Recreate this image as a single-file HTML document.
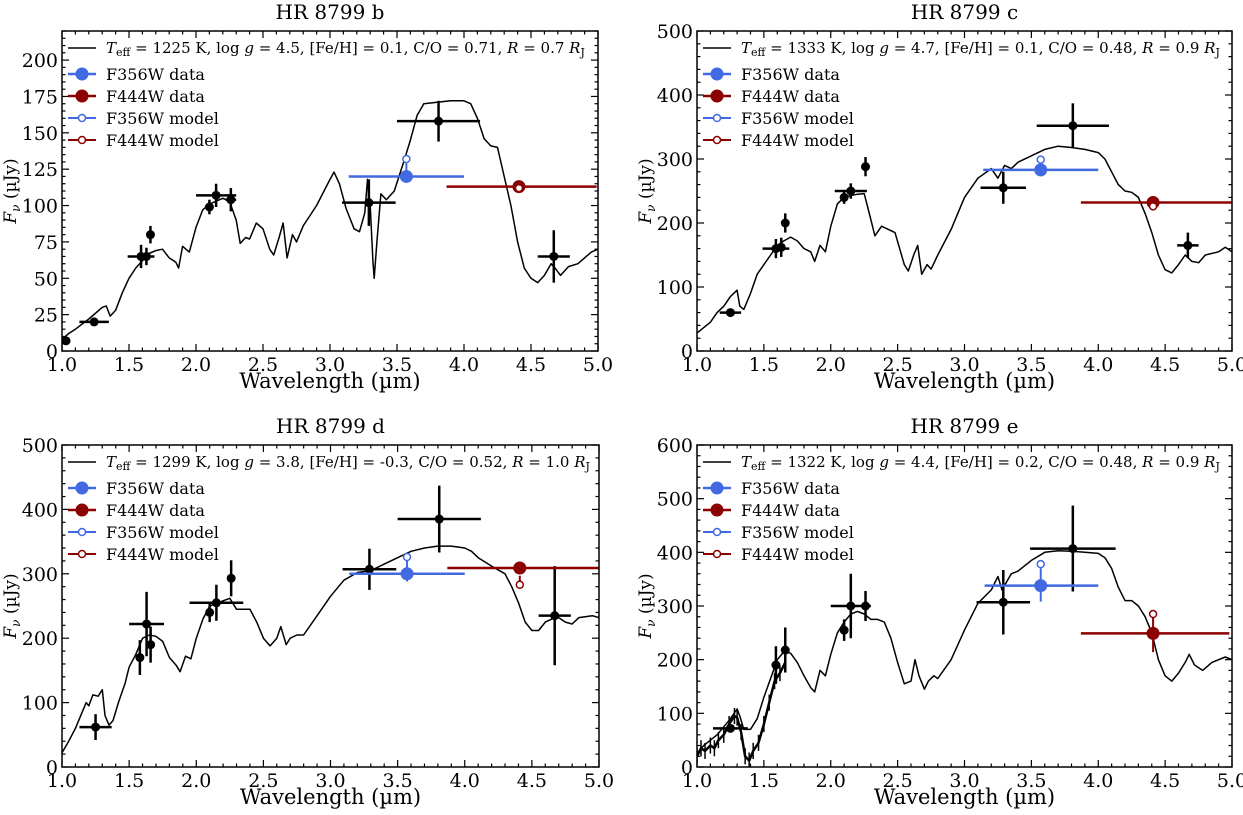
<!DOCTYPE html>
<html><head><meta charset="utf-8"><style>
html,body{margin:0;padding:0;background:#fff;}
svg text{font-family:"DejaVu Serif","Liberation Serif",serif;fill:#000;}
</style></head>
<body>
<svg id="fig" width="1243" height="810" xmlns="http://www.w3.org/2000/svg"></svg>
<script>
// ---------- data ----------
const modelB = [[1.0,8],[1.05,12],[1.1,15],[1.2,22],[1.3,30],[1.33,31],[1.36,24],[1.4,28],[1.45,40],[1.5,50],[1.55,57],[1.6,62],[1.65,67],[1.7,69],[1.75,70],[1.8,64],[1.85,61],[1.87,57],[1.9,72],[1.95,68],[2.0,85],[2.05,97],[2.1,101],[2.15,103],[2.2,105],[2.25,103],[2.3,90],[2.33,74],[2.37,78],[2.4,77],[2.45,88],[2.5,84],[2.55,70],[2.58,66],[2.62,78],[2.65,88],[2.68,64],[2.72,80],[2.75,75],[2.8,86],[2.9,100],[3.0,118],[3.03,123],[3.07,115],[3.12,98],[3.18,84],[3.22,82],[3.26,95],[3.28,118],[3.3,100],[3.32,62],[3.33,50],[3.35,75],[3.38,108],[3.42,104],[3.48,110],[3.55,130],[3.6,145],[3.65,162],[3.7,170],[3.8,171],[3.9,172],[4.0,172],[4.05,170],[4.1,160],[4.15,146],[4.2,141],[4.25,140],[4.3,120],[4.35,100],[4.4,75],[4.45,57],[4.5,50],[4.55,47],[4.6,52],[4.65,60],[4.68,57],[4.72,52],[4.78,58],[4.85,60],[4.95,68],[5.0,70]];
const modelC = [[1.0,28],[1.1,45],[1.15,60],[1.2,70],[1.25,85],[1.3,95],[1.32,70],[1.35,65],[1.4,90],[1.45,120],[1.5,135],[1.55,150],[1.6,165],[1.65,172],[1.7,178],[1.75,172],[1.8,160],[1.85,155],[1.88,140],[1.92,165],[1.96,155],[2.0,195],[2.05,230],[2.1,240],[2.15,243],[2.2,245],[2.25,246],[2.3,205],[2.33,180],[2.38,195],[2.43,190],[2.48,185],[2.55,135],[2.58,125],[2.62,150],[2.65,165],[2.68,120],[2.72,135],[2.75,128],[2.8,150],[2.9,190],[3.0,240],[3.1,270],[3.2,285],[3.25,270],[3.3,290],[3.35,285],[3.4,295],[3.5,305],[3.6,315],[3.7,320],[3.8,318],[3.9,315],[4.0,310],[4.05,300],[4.1,280],[4.15,260],[4.2,250],[4.25,248],[4.3,240],[4.35,215],[4.4,185],[4.45,150],[4.5,127],[4.55,122],[4.6,135],[4.65,150],[4.7,140],[4.75,138],[4.8,150],[4.9,155],[4.95,162],[5.0,155]];
const modelD = [[1.0,22],[1.05,40],[1.1,60],[1.15,85],[1.18,100],[1.2,95],[1.23,112],[1.27,110],[1.3,120],[1.32,80],[1.35,65],[1.38,72],[1.42,100],[1.47,130],[1.5,155],[1.55,175],[1.6,200],[1.65,205],[1.7,203],[1.75,195],[1.8,170],[1.85,158],[1.88,148],[1.92,172],[1.96,168],[2.0,200],[2.05,230],[2.1,250],[2.2,258],[2.25,262],[2.3,245],[2.35,245],[2.4,245],[2.45,225],[2.5,200],[2.55,188],[2.6,200],[2.63,218],[2.67,190],[2.7,200],[2.75,205],[2.8,205],[2.9,235],[3.0,265],[3.1,290],[3.2,302],[3.3,305],[3.4,315],[3.5,325],[3.6,335],[3.7,340],[3.8,343],[3.9,343],[4.0,340],[4.05,335],[4.1,325],[4.2,312],[4.3,300],[4.35,280],[4.4,255],[4.45,225],[4.5,212],[4.55,212],[4.6,225],[4.65,230],[4.7,232],[4.75,225],[4.8,222],[4.85,232],[4.95,235],[5.0,232]];
const modelE = [[1.0,25],[1.05,40],[1.1,50],[1.15,60],[1.2,75],[1.25,90],[1.3,108],[1.32,95],[1.35,70],[1.4,70],[1.45,90],[1.5,130],[1.55,165],[1.6,200],[1.65,215],[1.7,212],[1.75,195],[1.8,170],[1.85,148],[1.88,140],[1.92,180],[1.96,170],[2.0,210],[2.05,250],[2.1,270],[2.15,285],[2.2,290],[2.25,285],[2.3,275],[2.35,275],[2.4,270],[2.45,240],[2.5,195],[2.55,155],[2.6,160],[2.63,200],[2.66,170],[2.7,145],[2.73,160],[2.77,170],[2.8,165],[2.9,200],[3.0,255],[3.1,305],[3.2,330],[3.25,355],[3.28,330],[3.35,360],[3.4,365],[3.5,385],[3.6,400],[3.7,403],[3.8,402],[3.9,400],[4.0,398],[4.05,390],[4.1,370],[4.15,335],[4.2,310],[4.25,310],[4.3,300],[4.35,280],[4.4,250],[4.45,200],[4.5,170],[4.55,160],[4.6,175],[4.65,195],[4.68,210],[4.72,190],[4.78,180],[4.85,195],[4.95,205],[5.0,200]];
const specE = [[1.0,20],[1.03,35],[1.06,30],[1.1,40],[1.13,35],[1.16,50],[1.2,60],[1.24,80],[1.28,95],[1.3,92],[1.33,65],[1.36,20],[1.39,12],[1.42,30],[1.46,45],[1.5,80],[1.54,120],[1.58,160],[1.62,175],[1.66,195]];
// photometry: [wl, flux, xerr, yerr]
const photB = [[1.03,7,0,0],[1.24,20,0.11,0],[1.59,65,0.1,8],[1.63,65,0,6],[1.66,80,0,6],[2.10,99,0,5],[2.15,107,0.15,8],[2.26,104,0.04,8],[3.29,102,0.2,16],[3.81,158,0.31,14],[4.67,65,0.12,18]];
const photC = [[1.25,60,0.08,0],[1.59,160,0.1,15],[1.63,162,0,15],[1.66,200,0,15],[2.10,240,0,10],[2.15,250,0.12,12],[2.26,288,0,15],[3.29,255,0.17,25],[3.81,352,0.27,35],[4.67,165,0.08,20]];
const photD = [[1.25,62,0.12,20],[1.58,170,0,27],[1.63,222,0.13,50],[1.66,190,0,28],[2.10,240,0,15],[2.15,255,0.2,28],[2.26,293,0,28],[3.29,307,0.2,32],[3.81,385,0.31,52],[4.67,235,0.12,77]];
const photE = [[1.25,72,0.13,0],[1.59,190,0,35],[1.66,218,0,42],[2.10,255,0,20],[2.15,300,0.15,60],[2.26,300,0,28],[3.29,307,0.2,60],[3.81,407,0.32,80]];
// filters: [wl, data, xlo, xhi, yerr, model]
const f356 = [[3.57,120,3.14,4.0,4,132],[3.57,283,3.14,4.0,10,299],[3.57,300,3.14,4.0,12,326],[3.57,338,3.15,4.0,30,378]];
const f444 = [[4.41,113,3.87,4.99,4,112],[4.41,232,3.87,5.0,8,226],[4.41,309,3.87,5.0,12,283],[4.41,249,3.87,4.98,35,285]];
const titles = ["HR 8799 b","HR 8799 c","HR 8799 d","HR 8799 e"];
const params = [["1225","4.5","0.1","0.71","0.7"],["1333","4.7","0.1","0.48","0.9"],["1299","3.8","-0.3","0.52","1.0"],["1322","4.4","0.2","0.48","0.9"]];
const yMaxes = [220,500,500,600];
const yMajors = [25,100,100,100];
const yMinors = [5,20,20,20];
const xTicks = ["1.0","1.5","2.0","2.5","3.0","3.5","4.0","4.5","5.0"];

const boxes = [[62,31,598,351],[697,31,1232,351],[62,445,599,767],[697,445,1232,767]];
const models=[modelB,modelC,modelD,modelE], phots=[photB,photC,photD,photE];
const NS="http://www.w3.org/2000/svg";
const svg=document.getElementById('fig');
function mk(tag,attrs,parent){const e=document.createElementNS(NS,tag);for(const k in attrs)e.setAttribute(k,attrs[k]);(parent||svg).appendChild(e);return e;}
const BLUE="#4169e1", RED="#8b0000";

for(let p=0;p<4;p++){
  const [L,T,R,B]=boxes[p];
  const g=mk('g',{});
  
  
  const sx=v=>L+(v-1)/4*(R-L);
  const sy=v=>B-v/yMaxes[p]*(B-T);
  const cp=mk('clipPath',{id:'c'+p},g);mk('rect',{x:L,y:T,width:R-L,height:B-T},cp);
  for(let k=0;k<=40;k++){const x=sx(1+k*0.1);const len=(k%5==0)?7:3.5;
    mk('line',{x1:x,x2:x,y1:B,y2:B-len,stroke:'#000','stroke-width':1.2},g);
    mk('line',{x1:x,x2:x,y1:T,y2:T+len,stroke:'#000','stroke-width':1.2},g);}
  for(let v=0;v<=yMaxes[p]+1e-9;v+=yMinors[p]){const y=sy(v);const maj=Math.abs(v/yMajors[p]-Math.round(v/yMajors[p]))<1e-6;const len=maj?7:3.5;
    mk('line',{x1:L,x2:L+len,y1:y,y2:y,stroke:'#000','stroke-width':1.2},g);
    mk('line',{x1:R,x2:R-len,y1:y,y2:y,stroke:'#000','stroke-width':1.2},g);
    if(maj&&v<=yMaxes[p]-(p==0?20:0)+1e-9){const t=mk('text',{x:L-4,y:y+7,'text-anchor':'end','font-size':19},g);t.textContent=String(Math.round(v));
      
      }
  }
  xTicks.forEach(s=>{const t=mk('text',{x:sx(parseFloat(s)),y:B+20,'text-anchor':'middle','font-size':19},g);t.textContent=s;
    
    });
  const tt=mk('text',{x:(L+R)/2,y:T-12,'text-anchor':'middle','font-size':20},g);tt.textContent=titles[p];
  
  
  const xl=mk('text',{x:(L+R)/2,y:B+37,'text-anchor':'middle','font-size':21},g);xl.textContent='Wavelength (µm)';
  
  
  const yl=mk('text',{transform:`translate(${L-46},${(T+B)/2}) rotate(-90)`,'text-anchor':'middle','font-size':17},g);
  yl.innerHTML='<tspan font-style="italic">F</tspan><tspan font-style="italic" font-size="12" dy="4">ν</tspan><tspan dy="-4"> (µJy)</tspan>';
  
  
  const cg=mk('g',{'clip-path':`url(#c${p})`},g);
  if(p==3){
    specE.forEach(d=>{mk('line',{x1:sx(d[0]),x2:sx(d[0]),y1:sy(d[1]-15),y2:sy(d[1]+15),stroke:'#000','stroke-width':1.5},cg);});
    const sp=mk('path',{d:'M'+specE.map(d=>sx(d[0]).toFixed(1)+','+sy(d[1]).toFixed(1)).join('L'),fill:'none',stroke:'#000','stroke-width':2.5},cg);
    
    
  }
  const ml=mk('path',{d:'M'+models[p].map(d=>sx(d[0]).toFixed(1)+','+sy(d[1]).toFixed(1)).join('L'),fill:'none',stroke:'#000','stroke-width':1.5,'stroke-linejoin':'round'},cg);
  
  
  phots[p].forEach(d=>{const pg=mk('g',{},cg);
    
    
    if(d[2]>0)mk('line',{x1:sx(d[0]-d[2]),x2:sx(d[0]+d[2]),y1:sy(d[1]),y2:sy(d[1]),stroke:'#000','stroke-width':2.5},pg);
    if(d[3]>0)mk('line',{x1:sx(d[0]),x2:sx(d[0]),y1:sy(d[1]-d[3]),y2:sy(d[1]+d[3]),stroke:'#000','stroke-width':2.5},pg);
    mk('circle',{cx:sx(d[0]),cy:sy(d[1]),r:4.5,fill:'#000'},pg);});
  [[f356[p],BLUE,'f356w'],[f444[p],RED,'f444w']].forEach(([d,c,n])=>{
    const fg=mk('g',{},cg);
    
    
    mk('line',{x1:sx(d[2]),x2:sx(d[3]),y1:sy(d[1]),y2:sy(d[1]),stroke:c,'stroke-width':2.5},fg);
    mk('line',{x1:sx(d[0]),x2:sx(d[0]),y1:sy(d[5]),y2:sy(d[1]-d[4]),stroke:c,'stroke-width':2},fg);
    mk('circle',{cx:sx(d[0]),cy:sy(d[1]),r:6.5,fill:c},fg);
    mk('circle',{cx:sx(d[0]),cy:sy(d[5]),r:3.5,fill:'#fff',stroke:c,'stroke-width':1.5},fg);
  });
  mk('rect',{x:L,y:T,width:R-L,height:B-T,fill:'none',stroke:'#000','stroke-width':1.5},g);
  const lg=mk('g',{},g);
  
  
  const pr=params[p];
  let y0=T+17;
  mk('line',{x1:L+6,x2:L+34,y1:y0,y2:y0,stroke:'#000','stroke-width':1.5},lg);
  const t0=mk('text',{x:L+44,y:y0+5,'font-size':15},lg);
  t0.innerHTML=`<tspan font-style="italic">T</tspan><tspan font-size="11" dy="3">eff</tspan><tspan dy="-3"> = ${pr[0]} K, log </tspan><tspan font-style="italic">g</tspan><tspan> = ${pr[1]}, [Fe/H] = ${pr[2]}, C/O = ${pr[3]}, </tspan><tspan font-style="italic">R</tspan><tspan> = ${pr[4]} </tspan><tspan font-style="italic">R</tspan><tspan font-size="11" dy="3">J</tspan>`;
  const ents=[['F356W data',BLUE,true],['F444W data',RED,true],['F356W model',BLUE,false],['F444W model',RED,false]];
  ents.forEach((e,i)=>{const y=T+43+i*22;
    const eg=mk('g',{},lg);
    
    
    mk('line',{x1:L+6,x2:L+34,y1:y,y2:y,stroke:e[1],'stroke-width':e[2]?2.5:2},eg);
    if(e[2])mk('circle',{cx:L+20,cy:y,r:6.5,fill:e[1]},eg);
    else mk('circle',{cx:L+20,cy:y,r:3.5,fill:'#fff',stroke:e[1],'stroke-width':1.5},eg);
    const t=mk('text',{x:L+44,y:y+6,'font-size':16},eg);t.textContent=e[0];});
}
</script>
</body></html>
